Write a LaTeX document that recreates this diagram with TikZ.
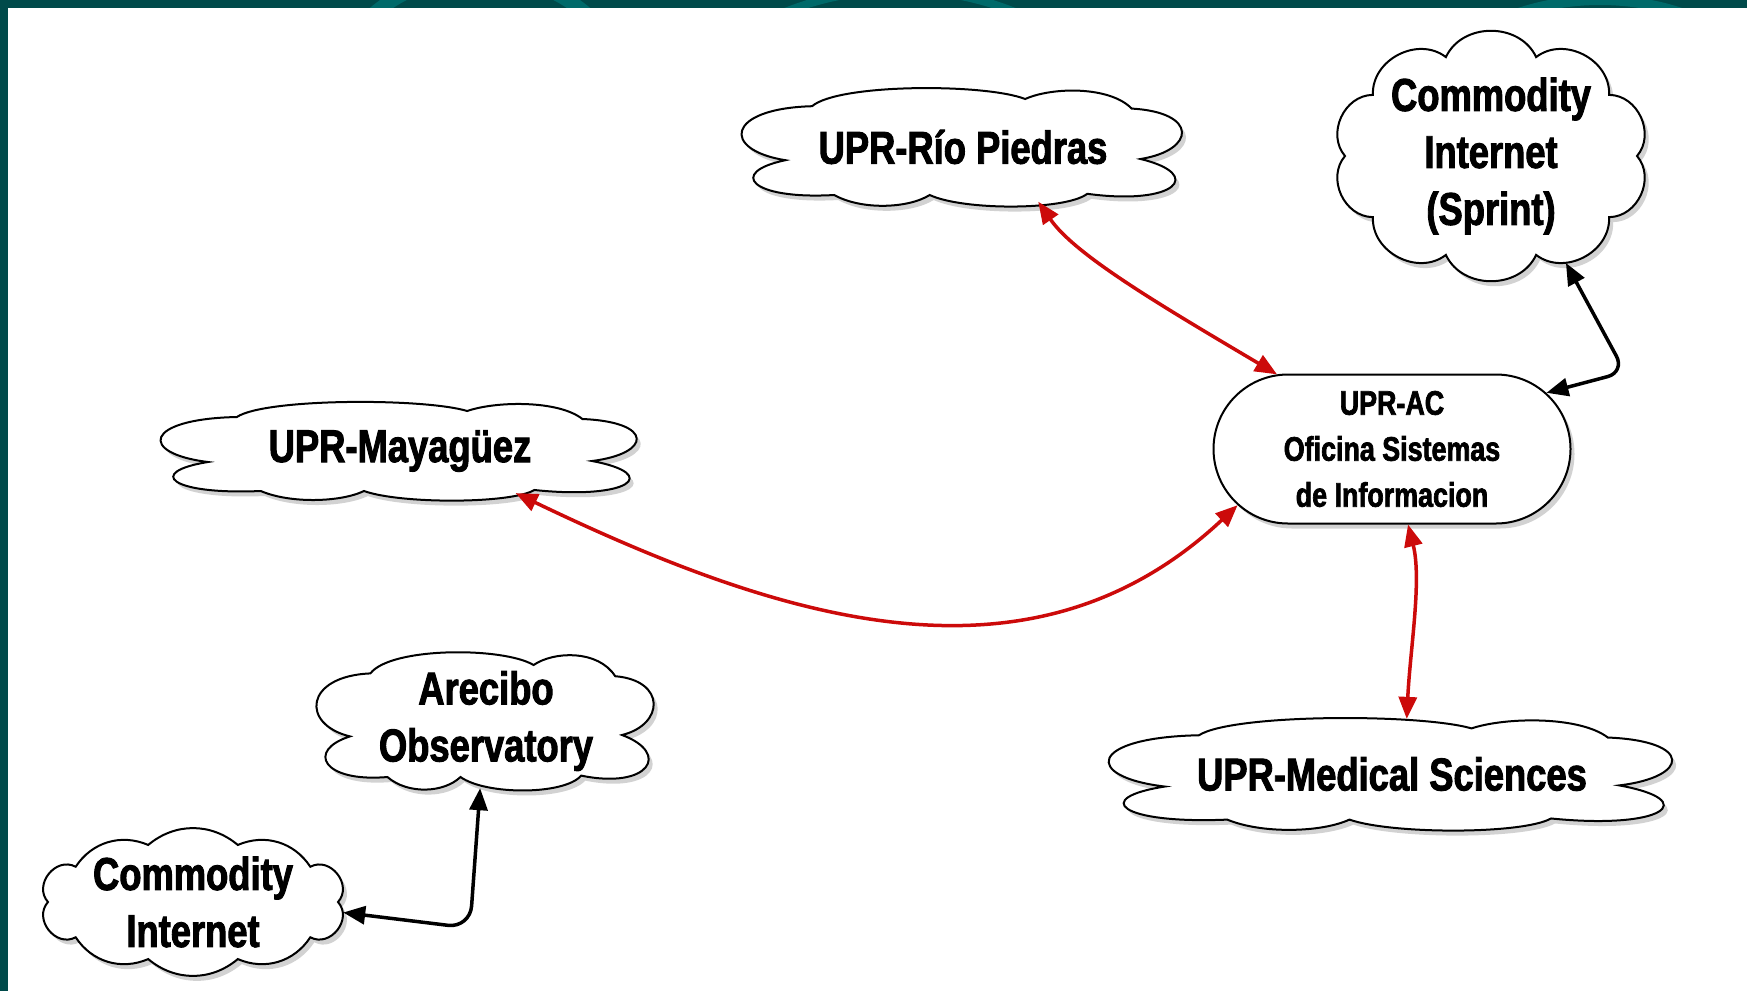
\documentclass[tikz,border=0pt]{standalone}
\usepackage{fontspec}
\setmainfont{Liberation Sans}[FakeStretch=0.79, BoldFeatures={FakeBold=2}]
\usetikzlibrary{shapes.misc,shapes.geometric,shadows,arrows.meta}
\definecolor{bandteal}{HTML}{004A4A}
\definecolor{bandlight}{HTML}{006A6A}
\definecolor{linkred}{HTML}{CC0A0A}
\tikzset{
  cloudline/.style={draw=black, line width=2pt, fill=white,
    drop shadow={shadow xshift=4pt, shadow yshift=-5pt, opacity=0.35}},
  cloudtext/.style={rectangle, draw=none, align=center, inner sep=0pt,
    font=\fontsize{46}{57}\selectfont\bfseries},
  cloudtextoval/.style={ellipse, draw=none, align=center, inner sep=0pt,
    font=\fontsize{46}{57}\selectfont\bfseries},
  acbox/.style={rounded rectangle, draw=black, line width=2pt, fill=white,
    align=center, font=\fontsize{34}{46}\selectfont\bfseries,
    minimum width=357pt, minimum height=149pt, inner sep=0pt,
    drop shadow={shadow xshift=4pt, shadow yshift=-5pt, opacity=0.35}},
  redlink/.style={draw=linkred, line width=3.5pt, {Triangle[length=22pt,width=18pt]}-{Triangle[length=22pt,width=18pt]}},
  blacklink/.style={draw=black, line width=3.5pt, {Triangle[length=22pt,width=18pt]}-{Triangle[length=22pt,width=18pt]}}
}
% round cloud outline: centre x, centre y, semi-axis a, semi-axis b, list macro angle/bend/looseness
\newcommand\cloudoutline[5]{%
  \begin{scope}[shift={(#1,#2)}]
    \path[cloudline] (0:#3 and #4)
      \foreach \ang/\bnd/\lsn in #5 { to[bend left=\bnd, looseness=\lsn] (\ang:#3 and #4) } -- cycle;
  \end{scope}}
% flat cloud outline: centre x, centre y, half width, half height
\newcommand\flatcloud[4]{%
  \begin{scope}[shift={(#1,#2)}, x=#3pt, y=-#4pt]
    \path[cloudline] (0.80,0.20)
      .. controls (1.05,0.05) and (1.06,-0.58) .. (0.76,-0.64)
      .. controls (0.66,-1.02) and (0.40,-1.00) .. (0.28,-0.80)
      .. controls (0.10,-1.06) and (-0.56,-1.06) .. (-0.68,-0.68)
      .. controls (-1.07,-0.64) and (-1.09,0.05) .. (-0.80,0.22)
      .. controls (-1.06,0.42) and (-0.96,0.88) .. (-0.58,0.80)
      .. controls (-0.46,1.05) and (-0.25,1.03) .. (-0.15,0.80)
      .. controls (0.00,1.06) and (0.46,1.06) .. (0.56,0.78)
      .. controls (0.96,0.98) and (1.09,0.46) .. (0.80,0.20) -- cycle;
  \end{scope}}
\newcommand\roundlist{36/65/1.1, 72/65/1.1, 108/65/1.1, 144/65/1.1, 180/65/1.1, 216/65/1.1, 252/65/1.1, 288/65/1.1, 324/65/1.1, 360/65/1.1}
\newcommand\midlist{36/80/1.3, 72/40/1, 108/40/1, 144/40/1, 180/80/1.3, 216/80/1.3, 252/40/1, 288/40/1, 324/40/1, 360/80/1.3}
\begin{document}
\begin{tikzpicture}[x=1pt,y=-1pt]
\useasboundingbox (0,0) rectangle (1747,991);
\fill[bandteal] (0,0) rectangle (1747,991);
\begin{scope}
  \clip (0,0) rectangle (1747,8);
  \draw[bandlight, line width=14pt] (480,140) circle (165);
  \draw[bandlight, line width=10pt] (1600,260) circle (260);
  \draw[bandlight, line width=8pt] (900,300) circle (310);
\end{scope}
\fill[white] (8,8) rectangle (1747,991);

% clouds
\flatcloud{963}{147}{222}{60}
\node[cloudtextoval, minimum width=438pt, minimum height=116pt] (rio) at (963,147) {UPR-Río Piedras};

\cloudoutline{1491}{156}{146}{104}{\roundlist}
\node[cloudtextoval, minimum width=302pt, minimum height=246pt] (sprint) at (1491,156) {Commodity\\Internet\\(Sprint)};

\node[acbox] (ac) at (1392,449) {UPR-AC\\Oficina Sistemas\\de Informacion};

\flatcloud{400}{451}{240}{50}
\node[cloudtextoval, minimum width=474pt, minimum height=96pt] (may) at (400,451) {UPR-Mayagüez};

\flatcloud{486}{721}{170}{70}
\node[cloudtext, minimum width=336pt, minimum height=134pt] (arecibo) at (486,721) {Arecibo\\Observatory};

\cloudoutline{193}{902}{145}{60}{\midlist}
\node[cloudtext, minimum width=300pt, minimum height=150pt] (ci) at (193,902) {Commodity\\Internet};

\flatcloud{1392}{774}{284}{57}
\node[cloudtextoval, minimum width=562pt, minimum height=110pt] (med) at (1392,774) {UPR-Medical Sciences};

% connectors
\draw[redlink] (rio.-36) .. controls (1075,255) and (1160,305) .. (ac.147);
\draw[redlink] (may.-20) .. controls (780,620) and (1030,700) .. (ac.-160);
\draw[redlink] (ac.-78) .. controls (1422,580) and (1410,650) .. (med.75);
\draw[blacklink, rounded corners=18pt] (sprint.-55) -- (1625,372) -- (ac.20);
\draw[blacklink, rounded corners=22pt] (ci.-4) -- (470,928) -- (arecibo.-95);
\end{tikzpicture}
\end{document}
